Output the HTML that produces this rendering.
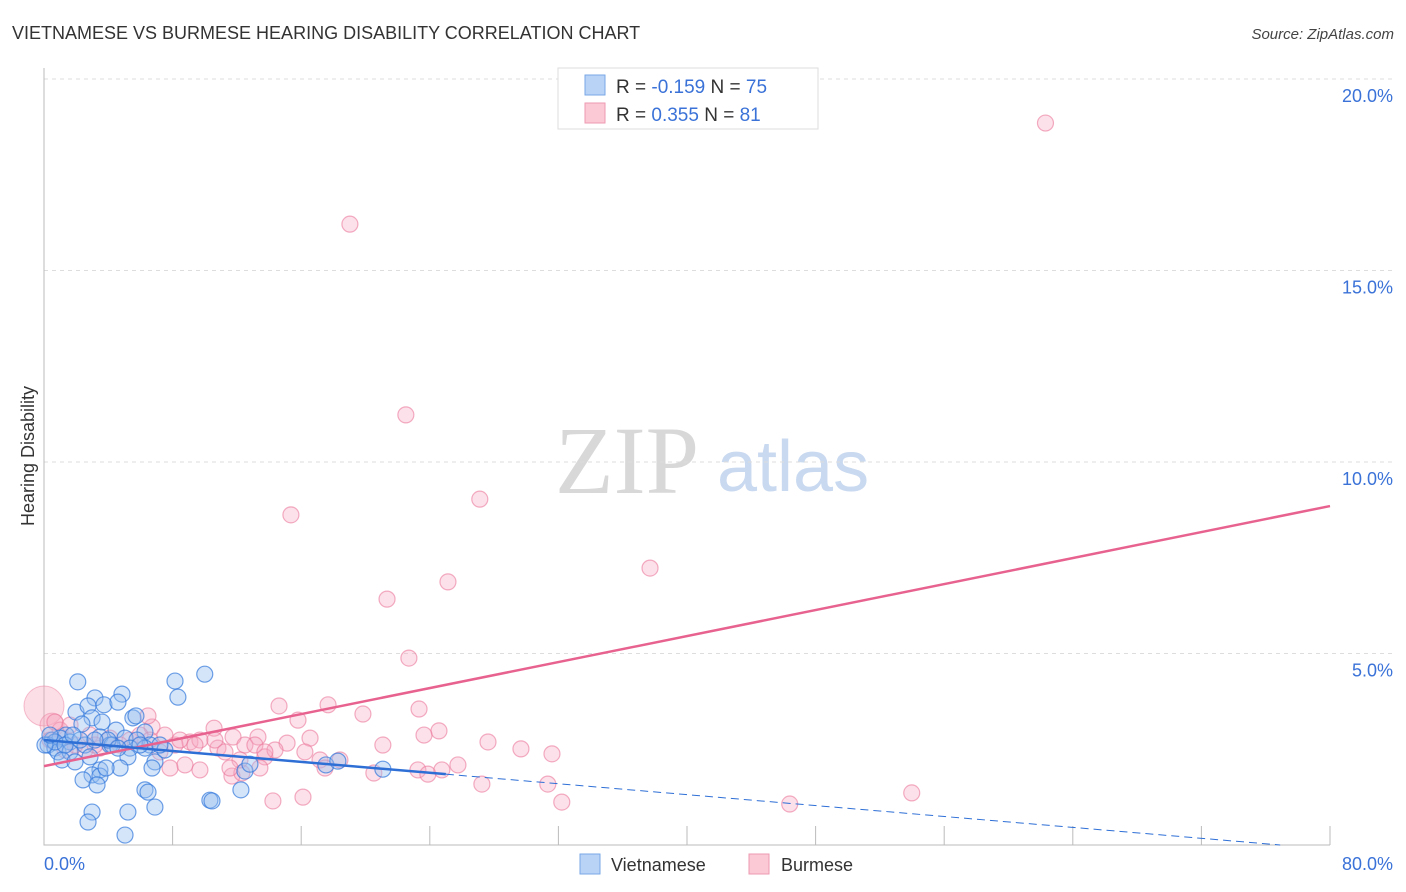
<!DOCTYPE html>
<html><head><meta charset="utf-8"><style>
body{margin:0;background:#fff;font-family:"Liberation Sans",sans-serif;}
svg{display:block}
</style></head><body>
<svg id="chart" width="1406" height="892" xmlns="http://www.w3.org/2000/svg">
<text x="12" y="39" font-size="18" fill="#333">VIETNAMESE VS BURMESE HEARING DISABILITY CORRELATION CHART</text>
<text x="1394" y="39" font-size="15" fill="#444" font-style="italic" text-anchor="end">Source: ZipAtlas.com</text>
<g>
<text x="555" y="493" font-family="Liberation Serif,serif" font-size="96" fill="#d8d8d8">ZIP</text>
<text x="717" y="491" font-size="72" fill="#c9d9f0">atlas</text>
</g>
<text transform="translate(34,456) rotate(-90)" font-size="18" fill="#333" text-anchor="middle">Hearing Disability</text>
<g id="grid"></g>
<g id="marks"></g>
<g>
<rect x="558" y="68" width="260" height="61" fill="#fff" stroke="#ddd"/>
<rect x="585" y="75" width="20" height="20" fill="#b8d3f5" stroke="#7aa7e6"/>
<rect x="585" y="103" width="20" height="20" fill="#fbc8d6" stroke="#ef9ab3"/>
<text x="616" y="93" font-size="19" fill="#333">R = <tspan fill="#3a72d8">-0.159</tspan>   N = <tspan fill="#3a72d8">75</tspan></text>
<text x="616" y="121" font-size="19" fill="#333">R =  <tspan fill="#3a72d8">0.355</tspan>   N =  <tspan fill="#3a72d8">81</tspan></text>
</g>
<g>
<rect x="580" y="854" width="20" height="20" fill="#b8d3f5" stroke="#7aa7e6"/>
<text x="611" y="871" font-size="18" fill="#333">Vietnamese</text>
<rect x="749" y="854" width="20" height="20" fill="#fbc8d6" stroke="#ef9ab3"/>
<text x="781" y="871" font-size="18" fill="#333">Burmese</text>
</g>
</svg>
<script>
const yTicks=[5,10,15,20];
const yTickLabels=["5.0%","10.0%","15.0%","20.0%"];
const xEndLabels=["0.0%","80.0%"];
const vietX=[2.1,8.15,10.0,4.85,3.17,8.33,1.99,2.74,3.73,4.6,2.99,5.53,3.61,5.72,2.36,4.48,6.28,1.37,3.48,5.04,5.78,6.59,0.5,0.25,0.68,1.0,1.62,2.55,4.1,5.35,0.87,1.62,1.12,1.93,2.86,4.23,5.22,6.28,6.9,7.52,3.48,4.73,6.72,2.99,3.48,2.43,3.3,3.86,6.28,6.47,10.32,10.45,12.25,12.5,12.81,17.54,18.28,21.08,5.22,6.9,2.99,2.74,5.04,0.68,0.06,0.37,1.31,2.24,3.98,4.6,5.97,7.21,1.8,3.17];
const vietY=[4.26,4.28,4.46,3.94,3.84,3.86,3.47,3.63,3.66,3.73,3.32,3.32,3.21,3.37,3.16,3.0,2.95,2.87,2.82,2.79,2.74,2.61,2.74,2.61,2.53,2.79,2.69,2.61,2.61,2.53,2.43,2.43,2.22,2.17,2.3,2.61,2.3,2.53,2.17,2.48,1.96,2.01,2.01,1.83,1.8,1.7,1.57,2.01,1.44,1.38,1.17,1.15,1.44,1.93,2.11,2.09,2.19,1.98,0.86,0.99,0.86,0.6,0.26,2.69,2.61,2.87,2.61,2.74,2.74,2.53,2.61,2.61,2.87,2.74];
const burmX=[62.3,19.03,22.51,27.11,15.36,37.7,25.13,21.34,22.7,14.62,17.67,19.84,23.33,15.8,6.72,6.47,10.58,11.76,13.31,16.55,24.57,23.64,15.12,21.08,27.62,29.67,31.6,9.08,10.82,13.74,8.15,7.21,9.7,12.5,14.37,17.17,7.84,8.77,9.7,11.69,12.31,17.48,20.52,23.26,23.88,24.75,25.75,27.24,31.34,32.21,46.39,53.98,14.24,16.11,12.19,10.63,5.35,4.73,3.48,2.55,1.0,0.68,1.62,2.86,4.1,5.97,0.37,1.31,1.93,3.17,6.59,7.52,8.46,9.39,11.26,13.12,13.74,16.23,18.41,13.43,11.57];
const burmY=[18.85,16.21,11.23,9.03,8.62,7.23,6.87,6.42,4.88,3.63,3.66,3.42,3.55,3.26,3.08,3.37,3.05,2.82,2.82,2.79,2.98,2.87,2.66,2.61,2.69,2.51,2.38,2.69,2.53,2.3,2.61,2.43,2.74,2.61,2.48,2.22,2.01,2.09,1.96,1.8,1.88,2.01,1.88,1.96,1.85,1.96,2.09,1.59,1.59,1.12,1.07,1.36,1.15,1.25,2.22,2.74,2.74,2.61,2.53,2.48,3.0,3.21,3.13,2.87,2.79,2.87,2.74,2.48,2.61,2.61,2.74,2.87,2.74,2.61,2.43,2.61,2.43,2.43,2.22,2.01,2.01];
const bigBurmX=[0.0,0.5];
const bigBurmY=[3.63,3.13];
const bigBurmR=[20,12];
const burmTrend=[2.06,8.85];
const vietTrend=[2.74,0.0];
const vietSolidEnd=25;
const vietDashEnd=76.9;

const NS="http://www.w3.org/2000/svg";
const X=v=>44+v*16.075, Y=v=>845-v*38.3;
function mk(t,a,p){const e=document.createElementNS(NS,t);for(const k in a)e.setAttribute(k,a[k]);p.appendChild(e);return e;}
const grid=document.getElementById('grid'), marks=document.getElementById('marks');
yTicks.forEach((t,i)=>{
 const l=mk('line',{x1:44,x2:1393,y1:Y(t),y2:Y(t),stroke:'#ddd','stroke-dasharray':'4,4'},grid);
 
 
 const tx=mk('text',{x:1393,y:Y(t)-51+57,'font-size':18,fill:'#3a72d8','text-anchor':'end'},grid);
 tx.setAttribute('y',Y(t)+23);
 tx.textContent=yTickLabels[i];
 
 
});
const ax=mk('path',{d:`M44 68 V845 H1330`,stroke:'#bbb',fill:'none'},grid);


for(let k=1;k<=10;k++){const t=mk('line',{x1:X(k*8),x2:X(k*8),y1:845,y2:826,stroke:'#bbb'},grid);
 
 }
[[0,'start',44],[80,'end',1393]].forEach((d,i)=>{const t=mk('text',{x:d[2],y:870,'font-size':18,fill:'#3a72d8','text-anchor':d[1]},grid);t.textContent=xEndLabels[i];
 
 });
bigBurmX.forEach((x,i)=>{const c=mk('circle',{cx:X(x),cy:Y(bigBurmY[i]),r:bigBurmR[i],fill:'rgba(245,160,185,0.35)',stroke:'rgba(235,130,160,0.5)'},marks);
 
 });
burmX.forEach((x,i)=>{const c=mk('circle',{cx:X(x),cy:Y(burmY[i]),r:8,fill:'rgba(247,170,195,0.35)',stroke:'rgba(235,120,155,0.6)','stroke-width':1.2},marks);
 
 });
vietX.forEach((x,i)=>{const c=mk('circle',{cx:X(x),cy:Y(vietY[i]),r:8,fill:'rgba(150,190,240,0.4)',stroke:'rgba(50,120,220,0.7)','stroke-width':1.2},marks);
 
 });
const vy=x=>vietTrend[0]+(vietTrend[1]-vietTrend[0])*x/vietDashEnd;
let l=mk('line',{x1:X(0),y1:Y(burmTrend[0]),x2:X(80),y2:Y(burmTrend[1]),stroke:'#e8628f','stroke-width':2.5},marks);


l=mk('line',{x1:X(0),y1:Y(vy(0)),x2:X(vietSolidEnd),y2:Y(vy(vietSolidEnd)),stroke:'#2e6fd6','stroke-width':2.5},marks);


l=mk('line',{x1:X(vietSolidEnd),y1:Y(vy(vietSolidEnd)),x2:X(vietDashEnd),y2:Y(vy(vietDashEnd)),stroke:'#2e6fd6','stroke-width':1,'stroke-dasharray':'8,5'},marks);


</script>
</body></html>
